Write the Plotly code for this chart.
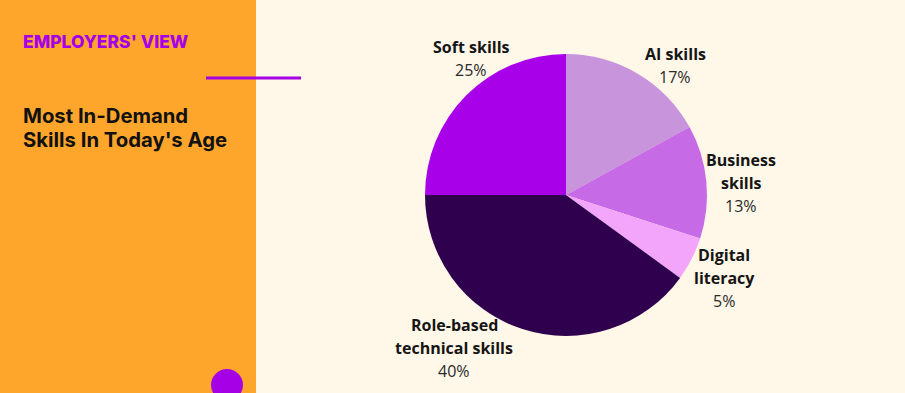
import plotly.graph_objects as go

# ---- data ----
categories = ["AI skills", "Business skills", "Digital literacy", "Role-based technical skills", "Soft skills"]
values = [17, 13, 5, 40, 25]
label_lines = [["AI skills"], ["Business", "skills"], ["Digital", "literacy"], ["Role-based", "technical skills"], ["Soft skills"]]
colors = ["#C894DC", "#C76AE6", "#F2A5FA", "#2E004E", "#A800E8"]

kicker = "EMPLOYERS' VIEW"
title_lines = ["Most In-Demand", "Skills In Today's Age"]

W, H = 905, 393
# label anchor (center of first line), pixels
label_pos = [(675, 54), (741, 160), (724, 255), (454, 325), (471, 47)]
LINE = 23

def px(x):
    return x / W

def py(y):
    return 1 - y / H

fig = go.Figure()
fig.add_trace(go.Pie(
    labels=categories, values=values, sort=False, direction="clockwise", rotation=0,
    marker=dict(colors=colors, line=dict(width=0)), textinfo="none", hoverinfo="label+percent",
    domain=dict(x=[px(425), px(707)], y=[py(336), py(54)]), showlegend=False,
))

ann = []
for lines, v, (x, y) in zip(label_lines, values, label_pos):
    for i, t in enumerate(lines):
        ann.append(dict(x=px(x), y=py(y + i * LINE), xref="paper", yref="paper", text=f"<b>{t}</b>",
                        showarrow=False, xanchor="center", yanchor="middle",
                        font=dict(family="Open Sans", size=16, color="#151515")))
    ann.append(dict(x=px(x), y=py(y + len(lines) * LINE), xref="paper", yref="paper", text=f"{v}%",
                    showarrow=False, xanchor="center", yanchor="middle",
                    font=dict(family="Open Sans", size=16, color="#2a2a2a")))

ann.append(dict(x=px(21), y=py(42), xref="paper", yref="paper", text=kicker, showarrow=False,
                xanchor="left", yanchor="middle",
                font=dict(family="Inter", size=17.5, color="#A600E6", weight=800)))
for i, t in enumerate(title_lines):
    ann.append(dict(x=px(21), y=py(115 + i * 24.5), xref="paper", yref="paper", text=t, showarrow=False,
                    xanchor="left", yanchor="middle",
                    font=dict(family="Inter", size=20.3, color="#111111", weight=700)))

shapes = [
    dict(type="rect", xref="paper", yref="paper", x0=0, x1=px(256), y0=0, y1=1,
         fillcolor="#FEA62B", line=dict(width=0), layer="below"),
    dict(type="line", xref="paper", yref="paper", x0=px(206), x1=px(301), y0=py(78), y1=py(78),
         line=dict(color="#A600E6", width=3)),
    dict(type="circle", xref="paper", yref="paper", x0=px(211), x1=px(243), y0=py(401), y1=py(369),
         fillcolor="#A600E6", line=dict(width=0)),
]

fig.update_layout(width=W, height=H, margin=dict(l=0, r=0, t=0, b=0),
                  paper_bgcolor="#FFF7E8", plot_bgcolor="#FFF7E8",
                  annotations=ann, shapes=shapes)
fig.write_html("out.html", config={"displayModeBar": False},
               post_script="document.body.style.margin='0';")
